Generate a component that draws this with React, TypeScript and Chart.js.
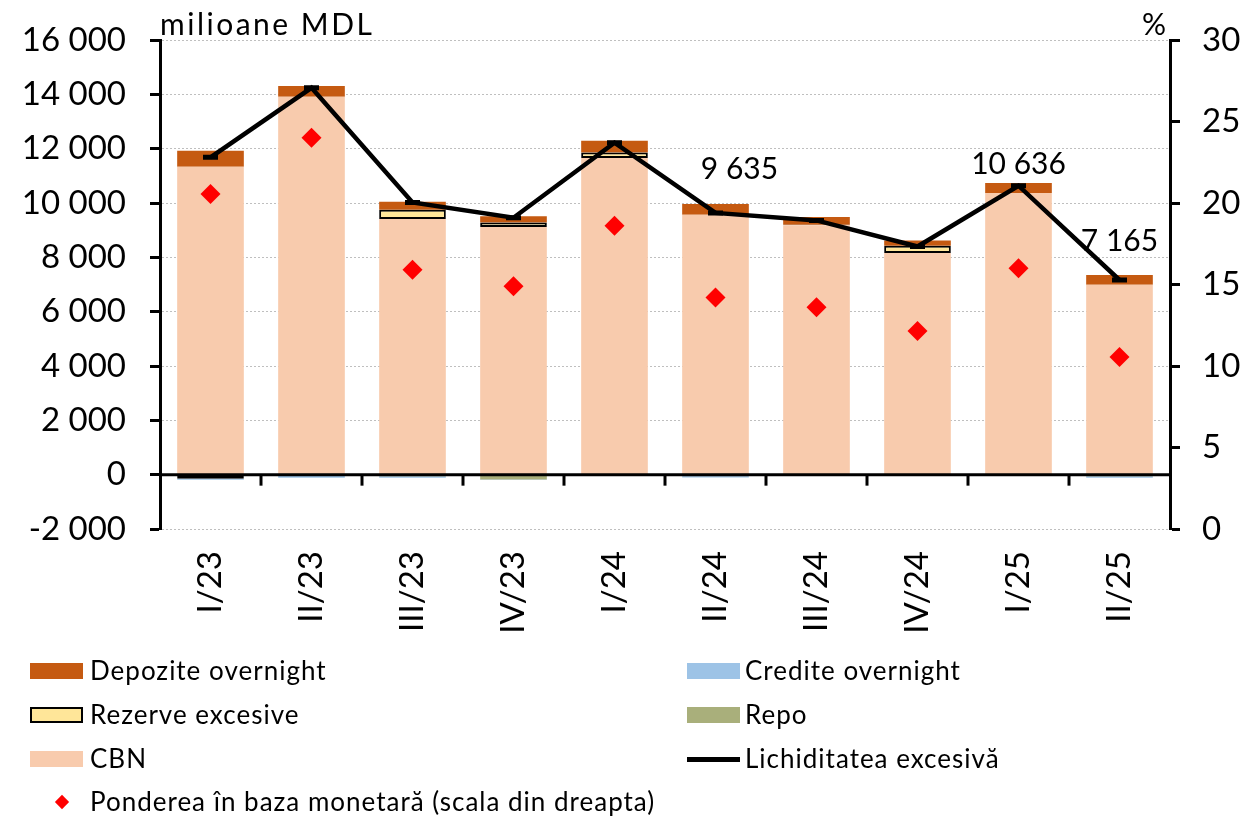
import React, { useEffect, useRef } from "react";
import { Chart, registerables } from "chart.js";

Chart.register(...registerables);

const categories = ["I/23", "II/23", "III/23", "IV/23", "I/24", "II/24", "III/24", "IV/24", "I/25", "II/25"];
const cbn = [11334, 13910, 9410, 9120, 11654, 9568, 9180, 8160, 10367, 6990];
const rezerveExcesive = [-150, -50, 340, 160, 206, -60, 20, 267, null, null];
const depoziteOvernight = [590, 400, 300, 230, 430, 394, 281, 195, 368, 357];
const repo = [null, null, -60, -180, null, null, null, null, null, -60];
const crediteOvernight = [-40, -60, -50, -20, null, -40, null, null, -40, -50];
const lichiditateaExcesiva = [11680, 14240, 10020, 9457, 12218, 9635, 9360, 8400, 10636, 7165];
const pondere = [20.55, 24.0, 15.9, 14.9, 18.6, 14.2, 13.6, 12.15, 16.0, 10.55];
const leftTicks = [-2000, 0, 2000, 4000, 6000, 8000, 10000, 12000, 14000, 16000];
const rightTicks = [0, 5, 10, 15, 20, 25, 30];

const FONT = "Lato";
const C_DEP = "#C55A11";
const C_CBN = "#F8CBAD";
const C_REZ = "#FFE699";
const C_CRED = "#9DC3E6";
const C_REPO = "#A9AF7B";

const fmt = (v: number) => {
  const s = Math.abs(Math.round(v)).toString().replace(/\B(?=(\d{3})+(?!\d))/g, " ");
  return (v < 0 ? "-" : "") + s;
};

const extrasPlugin = {
  id: "extras",
  afterDatasetsDraw(chart: any) {
    const { ctx, chartArea, scales } = chart;
    const x = scales.x;
    const y = scales.y;
    const y0 = y.getPixelForValue(0);
    ctx.save();
    ctx.strokeStyle = "#000";
    ctx.lineWidth = 3;
    ctx.beginPath();
    ctx.moveTo(chartArea.left, y0);
    ctx.lineTo(chartArea.right, y0);
    ctx.stroke();
    for (let i = 1; i < categories.length; i++) {
      const px = (x.getPixelForValue(i - 1) + x.getPixelForValue(i)) / 2;
      ctx.beginPath();
      ctx.moveTo(px, y0);
      ctx.lineTo(px, y0 + 11);
      ctx.stroke();
    }
    ctx.restore();
  },
  afterDraw(chart: any) {
    const { ctx, chartArea } = chart;
    const opts = chart.options.plugins.extras;
    ctx.save();
    ctx.fillStyle = "#000";
    ctx.font = `30px ${FONT}`;
    ctx.textAlign = "left";
    ctx.textBaseline = "alphabetic";
    try {
      (ctx as any).letterSpacing = "2.5px";
    } catch (e) {}
    ctx.fillText("milioane MDL", chartArea.left, 35);
    try {
      (ctx as any).letterSpacing = "0px";
    } catch (e) {}
    ctx.font = `30px ${FONT}`;
    ctx.textAlign = "right";
    ctx.fillText("%", chartArea.right - 4, 35);
    ctx.font = `30px ${FONT}`;
    ctx.textAlign = "center";
    ctx.textBaseline = "middle";
    const meta = chart.getDatasetMeta(5);
    for (const lab of opts.labels) {
      const pt = meta.data[lab.index];
      ctx.fillText(fmt(lichiditateaExcesiva[lab.index]), pt.x + lab.dx, pt.y + lab.dy);
    }
    ctx.restore();
  },
};

function App() {
  const ref = useRef<HTMLCanvasElement>(null);
  useEffect(() => {
    if (!ref.current) return;
    Chart.defaults.font.family = FONT;
    Chart.defaults.color = "#000";
    const chart = new Chart(ref.current, {
      type: "bar",
      data: {
        labels: categories,
        datasets: [
          { type: "bar", label: "CBN", data: cbn, backgroundColor: C_CBN, order: 2, yAxisID: "y", stack: "s" },
          {
            type: "bar",
            label: "Rezerve excesive",
            data: rezerveExcesive,
            backgroundColor: C_REZ,
            borderColor: "#000",
            borderWidth: 2,
            borderSkipped: false,
            order: 3,
            yAxisID: "y",
            stack: "s",
          },
          { type: "bar", label: "Depozite overnight", data: depoziteOvernight, backgroundColor: C_DEP, order: 4, yAxisID: "y", stack: "s" },
          { type: "bar", label: "Repo", data: repo, backgroundColor: C_REPO, order: 5, yAxisID: "y", stack: "s" },
          { type: "bar", label: "Credite overnight", data: crediteOvernight, backgroundColor: C_CRED, order: 6, yAxisID: "y", stack: "s" },
          {
            type: "line",
            label: "Lichiditatea excesivă",
            data: lichiditateaExcesiva,
            borderColor: "#000",
            backgroundColor: "#000",
            borderWidth: 4.5,
            tension: 0,
            pointStyle: "line",
            pointRadius: 7.5,
            pointBorderWidth: 5,
            pointBorderColor: "#000",
            order: 1,
            yAxisID: "y",
            stack: "line",
          },
          {
            type: "line",
            label: "Ponderea în baza monetară (scala din dreapta)",
            data: pondere,
            showLine: false,
            pointStyle: "rectRot",
            pointRadius: 10,
            pointBackgroundColor: "#FF0000",
            pointBorderColor: "#FF0000",
            pointBorderWidth: 0,
            order: 0,
            yAxisID: "y1",
          },
        ] as any,
      },
      options: {
        responsive: false,
        animation: false,
        devicePixelRatio: 1,
        layout: { padding: { top: 40, left: 0, right: 0, bottom: 0 } },
        datasets: {
          bar: { categoryPercentage: 1, barPercentage: 0.66 },
        } as any,
        plugins: {
          legend: { display: false },
          tooltip: { enabled: false },
          extras: {
            labels: [
              { index: 5, dx: 24, dy: -44 },
              { index: 8, dx: 0, dy: -21 },
              { index: 9, dx: 0, dy: -39 },
            ],
          },
        } as any,
        scales: {
          x: {
            stacked: true,
            grid: { display: false, drawTicks: false },
            border: { display: false },
            ticks: { font: { size: 33 }, maxRotation: 90, minRotation: 90, padding: 22, autoSkip: false },
            afterFit: (s: any) => {
              s.height = 817 - 529;
              s.paddingLeft = 0;
              s.paddingRight = 0;
            },
          },
          y: {
            stacked: true,
            position: "left",
            min: -2000,
            max: 16000,
            afterBuildTicks: (s: any) => {
              s.ticks = leftTicks.map((v) => ({ value: v }));
            },
            ticks: { font: { size: 33 }, padding: 24, callback: (v: any) => fmt(Number(v)) },
            grid: { color: "#BFBFBF", lineWidth: 1, tickColor: "#000", tickLength: 10, tickWidth: 3 },
            border: { display: true, color: "#000", width: 3, dash: [2, 2] },
            afterFit: (s: any) => {
              s.width = 160;
              s.paddingTop = 0;
              s.paddingBottom = 0;
            },
          },
          y1: {
            position: "right",
            min: 0,
            max: 30,
            afterBuildTicks: (s: any) => {
              s.ticks = rightTicks.map((v) => ({ value: v }));
            },
            ticks: { font: { size: 33 }, padding: 22, callback: (v: any) => String(v) },
            grid: { drawOnChartArea: false, tickColor: "#000", tickLength: 10, tickWidth: 3 },
            border: { display: true, color: "#000", width: 3 },
            afterFit: (s: any) => {
              s.width = 1245 - 1170;
              s.paddingTop = 0;
              s.paddingBottom = 0;
            },
          },
        },
      } as any,
      plugins: [extrasPlugin],
    });
    return () => chart.destroy();
  }, []);

  const textStyle: React.CSSProperties = {
    position: "absolute",
    fontFamily: FONT,
    fontSize: 26,
    letterSpacing: "1px",
    color: "#000",
    lineHeight: "30px",
    whiteSpace: "nowrap",
  };
  const rows = [671, 715, 759];
  const box = (x: number, y: number, fill: string, border?: boolean): React.CSSProperties => ({
    position: "absolute",
    left: x,
    top: y - 8,
    width: 53,
    height: 16,
    background: fill,
    boxSizing: "border-box",
    border: border ? "2px solid #000" : "none",
  });

  return (
    <div style={{ position: "absolute", left: 0, top: 0, width: 1245, height: 817, background: "#fff", overflow: "hidden" }}>
      <canvas ref={ref} width={1245} height={817} style={{ position: "absolute", left: 0, top: 0 }} />
      <div style={box(30, rows[0], C_DEP)} />
      <div style={{ ...textStyle, left: 90, top: rows[0] - 16 }}>Depozite overnight</div>
      <div style={box(687, rows[0], C_CRED)} />
      <div style={{ ...textStyle, left: 745, top: rows[0] - 16 }}>Credite overnight</div>
      <div style={box(30, rows[1], C_REZ, true)} />
      <div style={{ ...textStyle, left: 90, top: rows[1] - 16 }}>Rezerve excesive</div>
      <div style={box(687, rows[1], C_REPO)} />
      <div style={{ ...textStyle, left: 745, top: rows[1] - 16 }}>Repo</div>
      <div style={box(30, rows[2], C_CBN)} />
      <div style={{ ...textStyle, left: 90, top: rows[2] - 16 }}>CBN</div>
      <div style={{ position: "absolute", left: 687, top: rows[2] - 2, width: 53, height: 4.5, background: "#000" }} />
      <div style={{ ...textStyle, left: 745, top: rows[2] - 16 }}>Lichiditatea excesivă</div>
      <div
        style={{
          position: "absolute",
          left: 62 - 7,
          top: 802 - 7,
          width: 14,
          height: 14,
          background: "#FF0000",
          transform: "rotate(45deg) scale(0.72)",
        }}
      />
      <div style={{ ...textStyle, left: 90, top: 802 - 16 }}>Ponderea în baza monetară (scala din dreapta)</div>
    </div>
  );
}

export default App;
